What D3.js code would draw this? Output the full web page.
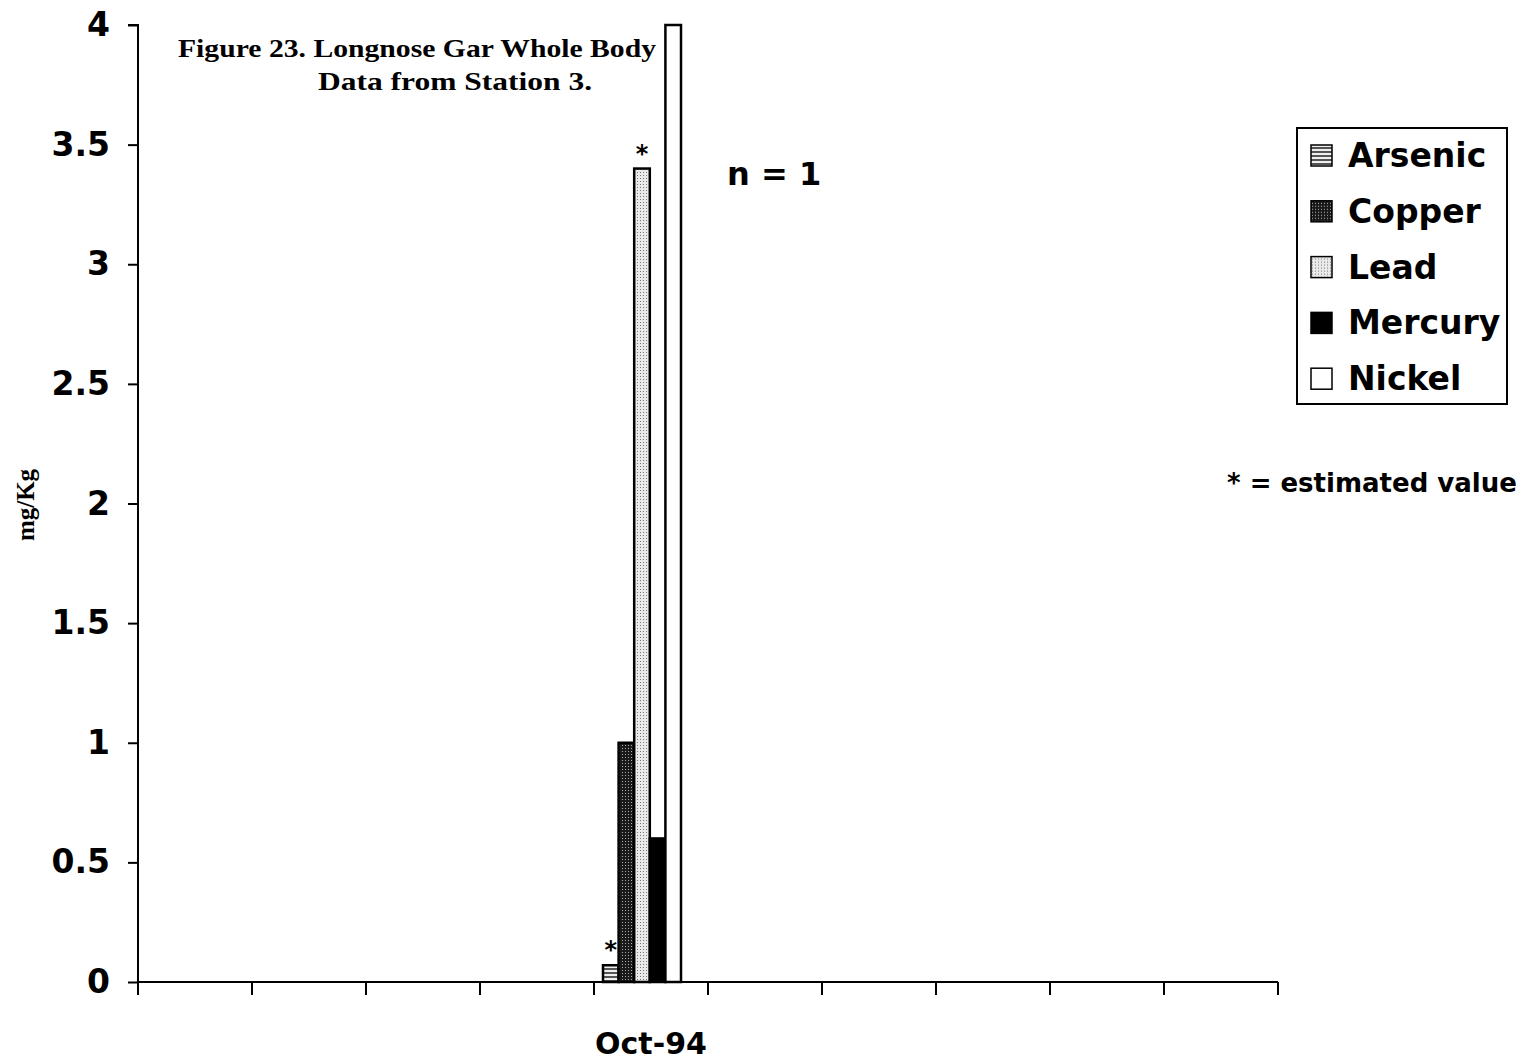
<!DOCTYPE html>
<html>
<head>
<meta charset="utf-8">
<script src="https://cdn.jsdelivr.net/npm/d3@7"></script>
<style>
  html, body { margin: 0; padding: 0; background: #fff; }
  svg { display: block; }
</style>
</head>
<body>
<svg id="chart" width="1534" height="1062"></svg>
<script>
// Sampling dates along the x axis (only one carries data)
const categories = ["c1", "c2", "c3", "c4", "Oct-94", "c6", "c7", "c8", "c9", "c10"];
const categoryLabels = ["", "", "", "", "Oct-94", "", "", "", "", ""];
const metals = ["Arsenic", "Copper", "Lead", "Mercury", "Nickel"];
// mg/Kg for the Oct-94 sample
const octValues = [0.07, 1.0, 3.4, 0.6, 4.0];
const estimated = [true, false, true, false, false];
const yTicks = [0, 0.5, 1, 1.5, 2, 2.5, 3, 3.5, 4];
const yTickLabels = ["0", "0.5", "1", "1.5", "2", "2.5", "3", "3.5", "4"];

const svg = d3.select("#chart");
const sans = "'DejaVu Sans', Arial, Helvetica, sans-serif";
const serif = "'Liberation Serif', 'Times New Roman', serif";

// Fill patterns for each metal
const defs = svg.append("defs");
const pA = defs.append("pattern").attr("id", "pat-arsenic").attr("patternUnits", "userSpaceOnUse")
  .attr("width", 4).attr("height", 4);
pA.append("rect").attr("width", 4).attr("height", 4).attr("fill", "#eee");
pA.append("rect").attr("width", 4).attr("height", 2).attr("fill", "#555");

const pC = defs.append("pattern").attr("id", "pat-copper").attr("patternUnits", "userSpaceOnUse")
  .attr("width", 3).attr("height", 3);
pC.append("rect").attr("width", 3).attr("height", 3).attr("fill", "#1a1a1a");
pC.append("rect").attr("x", 1).attr("y", 1).attr("width", 1).attr("height", 1).attr("fill", "#aaa");

const pL = defs.append("pattern").attr("id", "pat-lead").attr("patternUnits", "userSpaceOnUse")
  .attr("width", 3).attr("height", 3);
pL.append("rect").attr("width", 3).attr("height", 3).attr("fill", "#eaeaea");
pL.append("rect").attr("x", 1).attr("y", 1).attr("width", 1).attr("height", 1).attr("fill", "#777");

const fills = {
  Arsenic: "url(#pat-arsenic)",
  Copper: "url(#pat-copper)",
  Lead: "url(#pat-lead)",
  Mercury: "#000",
  Nickel: "#fff"
};

const plot = { left: 138, right: 1278, top: 25, bottom: 982 };

const x = d3.scaleBand().domain(categories).range([plot.left, plot.right]).padding(0);
const xInner = d3.scaleBand().domain(metals).range([9, 87]).padding(0);
const y = d3.scaleLinear().domain([0, 4]).range([plot.bottom, plot.top]);

// Bars
const bars = metals.map((m, i) => ({ cat: "Oct-94", metal: m, value: octValues[i], est: estimated[i] }));
const g = svg.append("g");
g.selectAll("rect.bar").data(bars).join("rect")
  .attr("class", "bar")
  .attr("x", d => x(d.cat) + xInner(d.metal))
  .attr("y", d => y(d.value))
  .attr("width", xInner.bandwidth())
  .attr("height", d => y(0) - y(d.value))
  .attr("fill", d => fills[d.metal])
  .attr("stroke", "#000")
  .attr("stroke-width", 2.5);

// Estimated-value asterisks
g.selectAll("text.est").data(bars.filter(d => d.est)).join("text")
  .attr("class", "est")
  .attr("x", d => x(d.cat) + xInner(d.metal) + xInner.bandwidth() / 2)
  .attr("y", d => y(d.value) - 7)
  .attr("text-anchor", "middle")
  .attr("font-family", sans).attr("font-weight", "bold").attr("font-size", 24)
  .text("*");

// Y axis
const yAxis = d3.axisLeft(y).tickValues(yTicks).tickFormat((d, i) => yTickLabels[i]).tickSize(10).tickPadding(18);
const ya = svg.append("g").attr("transform", `translate(${plot.left},0)`).call(yAxis);
ya.select(".domain").attr("stroke", "#000").attr("stroke-width", 2).attr("d", `M-10,${plot.top}H0V${plot.bottom + 10}`);
ya.selectAll(".tick line").attr("stroke", "#000").attr("stroke-width", 2);
ya.selectAll(".tick text").attr("font-family", sans).attr("font-weight", "bold").attr("font-size", 33).attr("fill", "#000");

// X axis with boundary ticks between periods
const xa = svg.append("g").attr("transform", `translate(0,${plot.bottom})`);
xa.append("line").attr("x1", plot.left).attr("x2", plot.right).attr("stroke", "#000").attr("stroke-width", 2);
const boundaries = categories.map(c => x(c)).concat([x.range()[1]]);
xa.selectAll("line.tk").data(boundaries).join("line")
  .attr("class", "tk")
  .attr("x1", d => d).attr("x2", d => d).attr("y1", 0).attr("y2", 13)
  .attr("stroke", "#000").attr("stroke-width", 2);
xa.selectAll("text.cat").data(categories).join("text")
  .attr("class", "cat")
  .attr("x", d => x(d) + x.bandwidth() / 2)
  .attr("y", 72)
  .attr("text-anchor", "middle")
  .attr("font-family", sans).attr("font-weight", "bold").attr("font-size", 30)
  .text((d, i) => categoryLabels[i]);

// Y axis title
svg.append("text")
  .attr("transform", "translate(34,505) rotate(-90)")
  .attr("text-anchor", "middle")
  .attr("font-family", serif).attr("font-weight", "bold").attr("font-size", 25)
  .text("mg/Kg");

// Figure title
const title = svg.append("text").attr("font-family", serif).attr("font-weight", "bold").attr("font-size", 26)
  .attr("text-anchor", "middle");
title.append("tspan").attr("x", 417).attr("y", 57)
  .attr("textLength", 478).attr("lengthAdjust", "spacingAndGlyphs")
  .text("Figure 23. Longnose Gar Whole Body");
title.append("tspan").attr("x", 455).attr("y", 90)
  .attr("textLength", 274).attr("lengthAdjust", "spacingAndGlyphs")
  .text("Data from Station 3.");

// Sample size
svg.append("text").attr("x", 727).attr("y", 185)
  .attr("font-family", sans).attr("font-weight", "bold").attr("font-size", 32)
  .text("n = 1");

// Legend
const lg = svg.append("g");
lg.append("rect").attr("x", 1297).attr("y", 128).attr("width", 210).attr("height", 276)
  .attr("fill", "#fff").attr("stroke", "#000").attr("stroke-width", 2);
const items = lg.selectAll("g.item").data(metals).join("g").attr("class", "item")
  .attr("transform", (d, i) => `translate(1311,${155 + i * 55.8})`);
items.append("rect").attr("x", 0).attr("y", -10).attr("width", 21).attr("height", 21)
  .attr("fill", d => fills[d]).attr("stroke", "#000").attr("stroke-width", 1.5);
items.append("text").attr("x", 37).attr("y", 12)
  .attr("font-family", sans).attr("font-weight", "bold").attr("font-size", 33)
  .text(d => d);

// Footnote
svg.append("text").attr("x", 1227).attr("y", 492)
  .attr("font-family", sans).attr("font-weight", "bold").attr("font-size", 26)
  .text("* = estimated value");
</script>
</body>
</html>
